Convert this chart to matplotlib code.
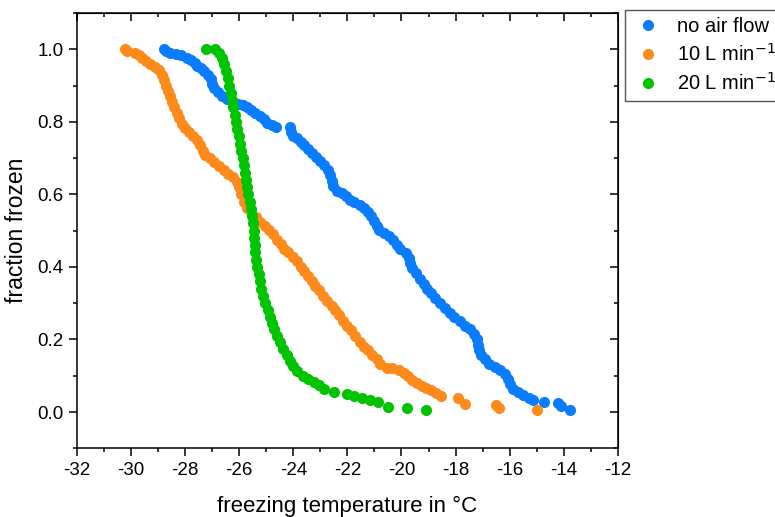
import matplotlib
matplotlib.use("Agg")
import matplotlib.pyplot as plt
from matplotlib.ticker import MultipleLocator

plt.rcParams['font.family'] = ['Liberation Sans', 'DejaVu Sans']
plt.rcParams['axes.unicode_minus'] = False

# no air flow
t_none = [-28.80, -28.70, -28.55, -28.35, -28.15, -27.95, -27.80, -27.65, -27.55, -27.40,
          -27.30, -27.15, -27.05, -27.00, -26.92, -26.80, -26.62, -26.45, -26.25, -26.05,
          -25.85, -25.70, -25.55, -25.40, -25.25, -25.10, -24.97, -24.80, -24.65, -24.12,
          -24.08, -24.00, -23.85, -23.72, -23.60, -23.45, -23.30, -23.15, -23.00, -22.85,
          -22.72, -22.65, -22.58, -22.52, -22.40, -22.20, -22.05, -21.90, -21.75, -21.55,
          -21.40, -21.25, -21.12, -21.02, -20.92, -20.82, -20.65, -20.45, -20.30, -20.18,
          -20.05, -19.85, -19.72, -19.68, -19.62, -19.48, -19.32, -19.18, -19.05, -18.92,
          -18.75, -18.58, -18.40, -18.22, -18.05, -17.85, -17.65, -17.45, -17.30, -17.22,
          -17.18, -17.15, -17.05, -16.90, -16.75, -16.55, -16.35, -16.18, -16.05, -15.98,
          -15.88, -15.70, -15.50, -15.30, -15.15, -14.73, -14.20, -14.10, -13.75]
f_none = [1.000, 0.995, 0.990, 0.988, 0.983, 0.977, 0.970, 0.963, 0.955, 0.947,
          0.940, 0.930, 0.918, 0.905, 0.893, 0.883, 0.872, 0.864, 0.856, 0.850,
          0.845, 0.840, 0.832, 0.825, 0.816, 0.807, 0.798, 0.790, 0.785, 0.785,
          0.772, 0.762, 0.754, 0.745, 0.735, 0.724, 0.714, 0.703, 0.692, 0.680,
          0.668, 0.652, 0.638, 0.622, 0.610, 0.604, 0.596, 0.585, 0.578, 0.570,
          0.562, 0.552, 0.540, 0.527, 0.514, 0.502, 0.493, 0.484, 0.474, 0.460,
          0.448, 0.438, 0.425, 0.410, 0.396, 0.382, 0.366, 0.352, 0.340, 0.327,
          0.314, 0.300, 0.286, 0.273, 0.262, 0.250, 0.238, 0.228, 0.216, 0.200,
          0.185, 0.170, 0.158, 0.145, 0.133, 0.124, 0.116, 0.105, 0.092, 0.078,
          0.064, 0.055, 0.047, 0.040, 0.033, 0.028, 0.025, 0.016, 0.006]

# 10 L/min
t_10 = [-30.22, -30.15, -29.85, -29.70, -29.58, -29.45, -29.30, -29.12, -28.95, -28.85,
        -28.78, -28.70, -28.62, -28.55, -28.48, -28.40, -28.32, -28.22, -28.12, -28.00,
        -27.85, -27.70, -27.58, -27.45, -27.35, -27.25, -27.10, -26.92, -26.75, -26.58,
        -26.40, -26.22, -26.10, -26.00, -25.92, -25.84, -25.72, -25.55, -25.38, -25.22,
        -25.05, -24.90, -24.75, -24.60, -24.45, -24.35, -24.20, -24.00, -23.85, -23.72,
        -23.60, -23.45, -23.30, -23.18, -23.05, -22.90, -22.75, -22.58, -22.45, -22.30,
        -22.15, -22.02, -21.88, -21.72, -21.55, -21.40, -21.22, -21.08, -20.92, -20.78,
        -20.55, -20.35, -20.10, -19.92, -19.75, -19.60, -19.42, -19.25, -19.08, -18.90,
        -18.72, -18.52, -17.90, -17.65, -16.52, -16.40, -15.00]
f_10 = [1.000, 0.995, 0.990, 0.983, 0.976, 0.968, 0.960, 0.952, 0.942, 0.930,
        0.915, 0.900, 0.885, 0.870, 0.855, 0.840, 0.825, 0.810, 0.795, 0.783,
        0.773, 0.762, 0.750, 0.735, 0.720, 0.708, 0.700, 0.690, 0.678, 0.667,
        0.657, 0.648, 0.635, 0.620, 0.600, 0.580, 0.563, 0.550, 0.537, 0.525,
        0.513, 0.502, 0.490, 0.475, 0.462, 0.450, 0.440, 0.428, 0.415, 0.400,
        0.388, 0.375, 0.362, 0.348, 0.335, 0.320, 0.307, 0.293, 0.280, 0.267,
        0.252, 0.238, 0.225, 0.210, 0.193, 0.180, 0.170, 0.158, 0.146, 0.132,
        0.122, 0.120, 0.115, 0.108, 0.098, 0.088, 0.080, 0.073, 0.066, 0.060,
        0.052, 0.044, 0.038, 0.022, 0.020, 0.010, 0.005]

# 20 L/min
t_20 = [-27.22, -26.90, -26.75, -26.62, -26.55, -26.48, -26.42, -26.37, -26.32, -26.27,
        -26.22, -26.17, -26.12, -26.07, -26.02, -25.97, -25.92, -25.87, -25.83, -25.78,
        -25.74, -25.70, -25.66, -25.62, -25.58, -25.54, -25.50, -25.47, -25.44, -25.42,
        -25.40, -25.37, -25.33, -25.28, -25.24, -25.20, -25.12, -25.03, -24.95, -24.88,
        -24.80, -24.72, -24.62, -24.50, -24.38, -24.25, -24.12, -24.00, -23.85, -23.65,
        -23.45, -23.25, -23.05, -22.88, -22.50, -22.00, -21.75, -21.45, -21.15, -20.85,
        -20.50, -19.78, -19.10]
f_20 = [1.000, 1.000, 0.990, 0.975, 0.960, 0.940, 0.920, 0.900, 0.880, 0.860,
        0.840, 0.820, 0.800, 0.780, 0.760, 0.740, 0.720, 0.700, 0.680, 0.660,
        0.640, 0.620, 0.600, 0.580, 0.560, 0.540, 0.520, 0.500, 0.480, 0.460,
        0.440, 0.420, 0.400, 0.380, 0.360, 0.340, 0.320, 0.300, 0.280, 0.262,
        0.245, 0.228, 0.210, 0.192, 0.175, 0.158, 0.140, 0.126, 0.112, 0.100,
        0.090, 0.084, 0.075, 0.063, 0.056, 0.051, 0.045, 0.040, 0.034, 0.028,
        0.015, 0.012, 0.006]

series = [
    (t_none, f_none, '#0a7cff', 'no air flow'),
    (t_10, f_10, '#ff8a1c', '10 L min$^{-1}$'),
    (t_20, f_20, '#00c400', '20 L min$^{-1}$'),
]

fig = plt.figure(figsize=(7.75, 5.17), dpi=100)
ax = fig.add_axes([0.0994, 0.1329, 0.6977, 0.842])

for t, f, c, lab in series:
    ax.plot(t, f, 'o', color=c, markersize=8, markeredgewidth=0, label=lab)

ax.set_xlim(-32, -12)
ax.set_ylim(-0.1, 1.1)
ax.xaxis.set_major_locator(MultipleLocator(2))
ax.xaxis.set_minor_locator(MultipleLocator(1))
ax.yaxis.set_major_locator(MultipleLocator(0.2))
ax.yaxis.set_minor_locator(MultipleLocator(0.1))
ax.yaxis.set_major_formatter(plt.FormatStrFormatter('%.1f'))
ax.tick_params(which='major', direction='out', length=6, width=1.1, labelsize=13.5)
ax.tick_params(which='minor', direction='out', length=3, width=1.1)
ax.tick_params(axis='x', which='major', pad=4)
for s in ax.spines.values():
    s.set_linewidth(1.1)

# inward ticks on the top and right spines
top = ax.secondary_xaxis('top')
top.xaxis.set_major_locator(MultipleLocator(2))
top.xaxis.set_minor_locator(MultipleLocator(1))
top.tick_params(which='major', direction='in', length=6, width=1.1, labeltop=False)
top.tick_params(which='minor', direction='in', length=3, width=1.1)
right = ax.secondary_yaxis('right')
right.yaxis.set_major_locator(MultipleLocator(0.2))
right.yaxis.set_minor_locator(MultipleLocator(0.1))
right.tick_params(which='major', direction='in', length=6, width=1.1, labelright=False)
right.tick_params(which='minor', direction='in', length=3, width=1.1)

ax.set_xlabel('freezing temperature in °C', fontsize=16, labelpad=12)
ax.set_ylabel('fraction frozen', fontsize=16.5, labelpad=7)

fig.legend(loc='upper left', bbox_to_anchor=(0.807, 0.981), fontsize=14.5,
           frameon=True, fancybox=False, edgecolor='#555555', framealpha=1,
           handletextpad=0.7, borderpad=0.35, labelspacing=0.35, handlelength=1.5,
           borderaxespad=0)

fig.savefig('out.png', dpi=100)
